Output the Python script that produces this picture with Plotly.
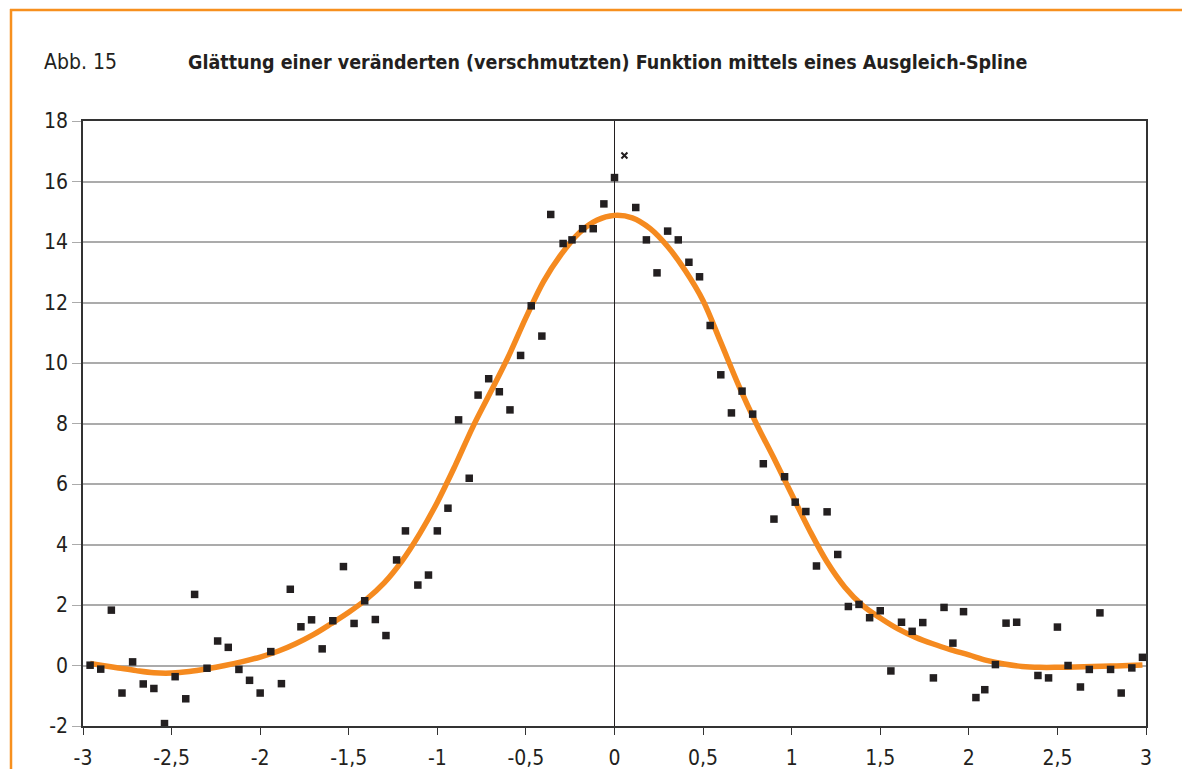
import plotly.graph_objects as go

# ---------------- data ----------------
pts_x = [-2.96, -2.90, -2.84, -2.78, -2.72, -2.66, -2.60, -2.54, -2.48, -2.42,
         -2.37, -2.30, -2.24, -2.18, -2.12, -2.06, -2.00, -1.94, -1.88, -1.83,
         -1.77, -1.71, -1.65, -1.59, -1.53, -1.47, -1.41, -1.35, -1.29, -1.23,
         -1.18, -1.11, -1.05, -1.00, -0.94, -0.88, -0.82, -0.77, -0.71, -0.65,
         -0.59, -0.53, -0.47, -0.41, -0.36, -0.29, -0.24, -0.18, -0.12, -0.06,
         0.00, 0.12, 0.18, 0.24, 0.30, 0.36, 0.42, 0.48, 0.54, 0.60,
         0.66, 0.72, 0.78, 0.84, 0.90, 0.96, 1.02, 1.08, 1.14, 1.20,
         1.26, 1.32, 1.38, 1.44, 1.50, 1.56, 1.62, 1.68, 1.74, 1.80,
         1.86, 1.91, 1.97, 2.04, 2.09, 2.15, 2.21, 2.27, 2.39, 2.45,
         2.50, 2.56, 2.63, 2.68, 2.74, 2.80, 2.86, 2.92, 2.98]
pts_y = [0.01, -0.12, 1.83, -0.91, 0.12, -0.61, -0.76, -1.92, -0.37, -1.10,
         2.35, -0.09, 0.81, 0.60, -0.13, -0.49, -0.91, 0.46, -0.60, 2.52,
         1.28, 1.51, 0.55, 1.48, 3.27, 1.39, 2.14, 1.52, 0.99, 3.49,
         4.45, 2.66, 2.99, 4.45, 5.20, 8.12, 6.19, 8.94, 9.48, 9.05,
         8.45, 10.25, 11.89, 10.89, 14.91, 13.95, 14.07, 14.44, 14.44, 15.26,
         16.13, 15.14, 14.07, 12.98, 14.36, 14.07, 13.33, 12.85, 11.24, 9.61,
         8.35, 9.07, 8.31, 6.67, 4.84, 6.24, 5.40, 5.09, 3.29, 5.08,
         3.67, 1.95, 2.02, 1.58, 1.81, -0.18, 1.43, 1.13, 1.42, -0.41,
         1.92, 0.74, 1.78, -1.06, -0.80, 0.03, 1.40, 1.43, -0.33, -0.41,
         1.27, 0.00, -0.71, -0.13, 1.74, -0.13, -0.91, -0.08, 0.27]

special_x = [0.056]
special_y = [16.86]

curve_x = [-2.96, -2.9, -2.8, -2.7, -2.6, -2.5, -2.4, -2.3, -2.2, -2.1,
           -2.0, -1.9, -1.8, -1.7, -1.6, -1.5, -1.4, -1.3, -1.2, -1.1,
           -1.0, -0.9, -0.8, -0.7, -0.6, -0.5, -0.4, -0.3, -0.2, -0.1,
           0.0, 0.1, 0.2, 0.3, 0.4, 0.5, 0.6, 0.7, 0.8, 0.9,
           1.0, 1.1, 1.2, 1.3, 1.4, 1.5, 1.6, 1.7, 1.8, 1.9,
           2.0, 2.1, 2.2, 2.3, 2.4, 2.5, 2.6, 2.7, 2.8, 2.9, 2.98]
curve_y = [0.07, 0.01, -0.08, -0.17, -0.24, -0.25, -0.20, -0.11, 0.00, 0.13,
           0.28, 0.47, 0.72, 1.02, 1.38, 1.76, 2.19, 2.73, 3.45, 4.35,
           5.40, 6.60, 7.88, 9.03, 10.20, 11.50, 12.70, 13.60, 14.30, 14.72,
           14.88, 14.80, 14.45, 13.85, 13.05, 12.06, 10.68, 9.27, 8.00, 6.85,
           5.66, 4.48, 3.42, 2.59, 1.99, 1.57, 1.21, 0.93, 0.71, 0.52,
           0.35, 0.17, 0.05, -0.03, -0.06, -0.06, -0.05, -0.03, -0.02, 0.00, 0.02]

x_ticks = [-3, -2.5, -2, -1.5, -1, -0.5, 0, 0.5, 1, 1.5, 2, 2.5, 3]
x_labels = ["-3", "-2,5", "-2", "-1,5", "-1", "-0,5", "0", "0,5", "1", "1,5", "2", "2,5", "3"]
y_ticks = [-2, 0, 2, 4, 6, 8, 10, 12, 14, 16, 18]
y_labels = ["-2", "0", "2", "4", "6", "8", "10", "12", "14", "16", "18"]

fig_label = "Abb. 15"
title_text = "Glättung einer veränderten (verschmutzten) Funktion mittels eines Ausgleich-Spline"

# ---------------- layout geometry ----------------
W, H = 1182, 769
L, R, T, B = 83, 36, 121, 43
PW, PH = W - L - R, H - T - B

def px(xp):
    return (xp - L) / PW

def py(yp):
    return (H - B - yp) / PH

FONT = "DejaVu Sans Condensed, DejaVu Sans, sans-serif"
ORANGE = "#F7901E"
CURVE = "#F58A1F"
DARK = "#231F20"

fig = go.Figure()
fig.add_trace(go.Scatter(x=curve_x, y=curve_y, mode="lines",
                         line=dict(color=CURVE, width=5.5, shape="spline", smoothing=1.0),
                         hoverinfo="skip", showlegend=False))
fig.add_trace(go.Scatter(x=pts_x, y=pts_y, mode="markers",
                         marker=dict(symbol="square", size=7.5, color=DARK, line=dict(width=0)),
                         showlegend=False))
fig.add_trace(go.Scatter(x=special_x, y=special_y, mode="markers",
                         marker=dict(symbol="x-thin", size=6, color=DARK, line=dict(width=2, color=DARK)),
                         showlegend=False))

fig.update_layout(
    width=W, height=H,
    margin=dict(l=L, r=R, t=T, b=B, pad=0, autoexpand=False),
    paper_bgcolor="white", plot_bgcolor="white",
    font=dict(family=FONT, size=21, color=DARK),
    xaxis=dict(range=[-3, 3], tickvals=x_ticks, ticktext=x_labels, automargin=False,
               showgrid=False, zeroline=True, zerolinecolor=DARK, zerolinewidth=1,
               showline=True, linecolor="#333333", linewidth=1.5, mirror=True,
               ticks="outside", ticklen=7, tickcolor="#333333", tickwidth=1.2,
               ticklabelstandoff=5,
               tickfont=dict(family=FONT, size=21, color=DARK)),
    yaxis=dict(range=[-2, 18], tickvals=y_ticks, ticktext=y_labels, automargin=False,
               showgrid=True, gridcolor="#ABABAB", gridwidth=1.5, zeroline=False,
               showline=True, linecolor="#333333", linewidth=1.5, mirror=True,
               ticks="outside", ticklen=9, tickcolor="#ABABAB", tickwidth=1.2,
               tickfont=dict(family=FONT, size=21, color=DARK)),
    shapes=[
        dict(type="line", xref="paper", yref="paper", x0=px(10), x1=px(W + 5), y0=py(10), y1=py(10),
             line=dict(color=ORANGE, width=2.5)),
        dict(type="line", xref="paper", yref="paper", x0=px(11), x1=px(11), y0=py(9), y1=py(H + 5),
             line=dict(color=ORANGE, width=2.5)),
    ],
    annotations=[
        dict(text=fig_label, xref="paper", yref="paper", x=px(42), y=py(62),
             xanchor="left", yanchor="middle", showarrow=False,
             font=dict(family=FONT, size=21, color=DARK)),
        dict(text="<b>" + title_text + "</b>", xref="paper", yref="paper", x=px(186), y=py(62),
             xanchor="left", yanchor="middle", showarrow=False,
             font=dict(family=FONT, size=19.5, color=DARK)),
    ],
)

fig.write_html("out.html")
